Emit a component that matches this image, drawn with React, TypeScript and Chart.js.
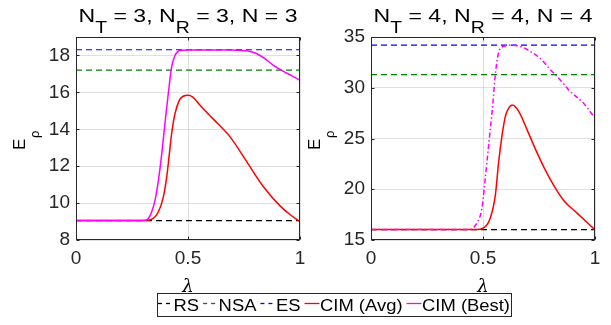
import React, { useEffect, useRef } from "react";
import { Chart, registerables } from "chart.js";

Chart.register(...registerables);

// ---------- data ----------
const xTicks = [0, 0.5, 1];
const yTicks3 = [8, 10, 12, 14, 16, 18];
const yTicks4 = [15, 20, 25, 30, 35];

const seriesLabels = ["RS", "NSA", "ES", "CIM (Avg)", "CIM (Best)"];

const constLambda = [0, 1];

// N_T = 3, N_R = 3, N = 3
const rs3 = [9.05, 9.05];
const nsa3 = [17.2, 17.2];
const es3 = [18.31, 18.31];
const lambda3Avg = [0, 0.3, 0.345, 0.368, 0.39, 0.405, 0.417, 0.427, 0.442, 0.461, 0.479, 0.5, 0.52, 0.554, 0.613, 0.687, 0.762, 0.836, 0.911, 0.955, 1.0];
const avg3 = [9.05, 9.05, 9.17, 9.53, 10.34, 11.42, 12.69, 13.77, 14.85, 15.57, 15.79, 15.84, 15.76, 15.3, 14.55, 13.6, 12.25, 10.9, 9.85, 9.38, 8.99];
const lambda3Best = [0, 0.3, 0.323, 0.338, 0.353, 0.368, 0.383, 0.397, 0.412, 0.427, 0.442, 0.464, 0.5, 0.6, 0.7, 0.76, 0.8, 0.84, 0.88, 0.92, 0.96, 1.0];
const best3 = [9.05, 9.05, 9.17, 9.53, 10.16, 11.24, 12.69, 14.31, 15.94, 17.38, 18.0, 18.27, 18.3, 18.3, 18.29, 18.25, 18.13, 17.85, 17.48, 17.18, 16.92, 16.65];

// N_T = 4, N_R = 4, N = 4
const rs4 = [16.03, 16.03];
const nsa4 = [31.3, 31.3];
const es4 = [34.2, 34.2];
const lambda4Avg = [0, 0.466, 0.503, 0.533, 0.555, 0.57, 0.585, 0.6, 0.615, 0.63, 0.659, 0.696, 0.733, 0.771, 0.815, 0.86, 0.92, 1.0];
const avg4 = [16.03, 16.03, 16.2, 17.2, 19.4, 22.7, 25.3, 27.2, 28.0, 28.3, 27.7, 25.9, 24.0, 22.2, 20.4, 18.9, 17.65, 16.0];
const lambda4Best = [0, 0.44, 0.473, 0.495, 0.51, 0.525, 0.54, 0.547, 0.554, 0.569, 0.591, 0.628, 0.666, 0.71, 0.755, 0.8, 0.844, 0.888, 0.948, 1.0];
const best4 = [16.03, 16.03, 16.7, 18.1, 21.05, 24.3, 27.5, 29.2, 31.1, 33.4, 34.07, 34.2, 34.07, 33.6, 32.9, 31.8, 30.8, 29.66, 28.5, 27.0];

// ---------- styles ----------
const FONT = '"Liberation Sans", Arial, sans-serif';
const AXIS = "#262626";
const GRID = "rgba(38,38,38,0.15)";
const C_RS = "#000000";
const C_NSA = "#008000";
const C_ES = "#0000ff";
const C_AVG = "#ff0000";
const C_BEST = "#ff00ff";

const pts = (xs: number[], ys: number[]) => xs.map((x, i) => ({ x, y: ys[i] }));

type Piece = { t: string; sub?: boolean };

function drawTitle(ctx: CanvasRenderingContext2D, pieces: Piece[], cx: number, target: number) {
  const main = `19px ${FONT}`;
  const sub = `16px ${FONT}`;
  let total = 0;
  const ws = pieces.map((p) => {
    ctx.font = p.sub ? sub : main;
    const w = ctx.measureText(p.t).width;
    total += w;
    return w;
  });
  const s = target / total;
  ctx.save();
  ctx.translate(cx - target / 2, 0);
  ctx.scale(s, 1);
  ctx.fillStyle = "#000";
  ctx.textBaseline = "alphabetic";
  ctx.textAlign = "left";
  let x = 0;
  pieces.forEach((p, i) => {
    ctx.font = p.sub ? sub : main;
    ctx.fillText(p.t, x, p.sub ? 33.3 : 21.7);
    x += ws[i];
  });
  ctx.restore();
}

function drawLegend(ctx: CanvasRenderingContext2D) {
  const colors = [C_RS, C_NSA, C_ES, C_AVG, C_BEST];
  const dashes = [[4, 4], [4, 4], [4, 4], [], []];
  const boxL = 157, boxR = 511, boxT = 293, boxB = 316;
  const sampleW = 15, gap = 4;
  ctx.save();
  ctx.font = `16px ${FONT}`;
  const widths = seriesLabels.map((l) => ctx.measureText(l).width);
  const sum = widths.reduce((a, b) => a + b, 0);
  const avail = boxR - boxL - 2 - seriesLabels.length * (sampleW + 0.5) - (seriesLabels.length - 1) * gap;
  const s = avail / sum;
  ctx.fillStyle = "#fff";
  ctx.fillRect(boxL, boxT, boxR - boxL, boxB - boxT);
  ctx.strokeStyle = AXIS;
  ctx.lineWidth = 1;
  ctx.strokeRect(boxL + 0.5, boxT + 0.5, boxR - boxL, boxB - boxT);
  let x = boxL + 1;
  seriesLabels.forEach((label, i) => {
    ctx.beginPath();
    ctx.setLineDash(dashes[i]);
    ctx.strokeStyle = colors[i];
    ctx.lineWidth = 1.3;
    ctx.moveTo(x, 303.5);
    ctx.lineTo(x + sampleW, 303.5);
    ctx.stroke();
    ctx.setLineDash([]);
    ctx.save();
    ctx.translate(x + sampleW + 0.5, 0);
    ctx.scale(s, 1);
    ctx.fillStyle = "#000";
    ctx.textBaseline = "alphabetic";
    ctx.textAlign = "left";
    ctx.fillText(label, 0, 311);
    ctx.restore();
    x += sampleW + 0.5 + widths[i] * s + gap;
  });
  ctx.restore();
}

function makeDecor(id: string, title: Piece[], yTicks: number[], withLegend: boolean) {
  return {
    id,
    afterDraw(chart: any) {
      const ctx: CanvasRenderingContext2D = chart.ctx;
      const { left, right, top, bottom } = chart.chartArea;
      const xs = chart.scales.x;
      const ys = chart.scales.y;
      ctx.save();
      ctx.strokeStyle = AXIS;
      ctx.lineWidth = 1;
      const L = Math.round(left) + 0.5, R = Math.round(right) - 0.5;
      const T = Math.round(top) + 0.5, B = Math.round(bottom) - 0.5;
      ctx.strokeRect(L, T, R - L, B - T);
      ctx.beginPath();
      xTicks.forEach((v) => {
        const px = Math.round(xs.getPixelForValue(v)) + 0.5;
        ctx.moveTo(px, B); ctx.lineTo(px, B - 3);
        ctx.moveTo(px, T); ctx.lineTo(px, T + 3);
      });
      yTicks.forEach((v) => {
        const py = Math.round(ys.getPixelForValue(v)) + 0.5;
        ctx.moveTo(L, py); ctx.lineTo(L + 3, py);
        ctx.moveTo(R, py); ctx.lineTo(R - 3, py);
      });
      ctx.stroke();
      ctx.restore();

      const cx = (left + right) / 2;
      drawTitle(ctx, title, cx, 219);

      // y label E_rho
      ctx.save();
      ctx.fillStyle = "#000";
      ctx.textAlign = "left";
      ctx.textBaseline = "alphabetic";
      ctx.translate(left - 51, 150);
      ctx.rotate(-Math.PI / 2);
      ctx.font = `17px ${FONT}`;
      ctx.fillText("E", 0, 0);
      ctx.font = `13px ${FONT}`;
      ctx.fillText("ρ", 12, 14);
      ctx.restore();

      // x label lambda
      ctx.save();
      ctx.fillStyle = "#000";
      ctx.textAlign = "center";
      ctx.textBaseline = "alphabetic";
      ctx.font = `italic 18px "DejaVu Serif", serif`;
      ctx.fillText("λ", cx, 292);
      ctx.restore();

      if (withLegend) drawLegend(ctx);
    },
  };
}

type Panel = {
  rs: number[]; nsa: number[]; es: number[];
  lAvg: number[]; avg: number[]; lBest: number[]; best: number[];
  bestDash: number[];
  yMin: number; yMax: number; yTicks: number[];
  padL: number; padR: number;
  title: Piece[];
  legend: boolean;
  id: string;
};

function makeConfig(p: Panel): any {
  const tickFont = { family: FONT, size: 19 };
  return {
    type: "line",
    data: {
      datasets: [
        { label: seriesLabels[0], data: pts(constLambda, p.rs), borderColor: C_RS, borderDash: [6, 4], borderWidth: 1.2, pointRadius: 0, order: 5 },
        { label: seriesLabels[1], data: pts(constLambda, p.nsa), borderColor: C_NSA, borderDash: [6, 4], borderWidth: 1.2, pointRadius: 0, order: 4 },
        { label: seriesLabels[2], data: pts(constLambda, p.es), borderColor: C_ES, borderDash: [6, 4], borderWidth: 1.2, pointRadius: 0, order: 3 },
        { label: seriesLabels[3], data: pts(p.lAvg, p.avg), borderColor: C_AVG, borderWidth: 1.5, pointRadius: 0, cubicInterpolationMode: "monotone", order: 2 },
        { label: seriesLabels[4], data: pts(p.lBest, p.best), borderColor: C_BEST, borderDash: p.bestDash, borderWidth: 1.5, pointRadius: 0, cubicInterpolationMode: "monotone", order: 1 },
      ],
    },
    options: {
      animation: false,
      responsive: false,
      devicePixelRatio: 1,
      events: [],
      layout: { padding: { left: p.padL, right: p.padR, top: 37, bottom: 55 } },
      plugins: { legend: { display: false }, tooltip: { enabled: false }, title: { display: false } },
      scales: {
        x: {
          type: "linear",
          min: 0,
          max: 1,
          afterBuildTicks: (s: any) => { s.ticks = xTicks.map((v) => ({ value: v })); },
          afterFit: (s: any) => { s.height = 30; },
          ticks: { font: tickFont, color: AXIS, padding: 7, maxRotation: 0, autoSkip: false, callback: (v: any) => String(v) },
          grid: { color: GRID, drawTicks: false, lineWidth: 1 },
          border: { display: false },
        },
        y: {
          type: "linear",
          min: p.yMin,
          max: p.yMax,
          afterBuildTicks: (s: any) => { s.ticks = p.yTicks.map((v) => ({ value: v })); },
          afterFit: (s: any) => { s.width = 40; },
          ticks: { font: tickFont, color: AXIS, padding: 6, autoSkip: false, callback: (v: any) => String(v) },
          grid: { color: GRID, drawTicks: false, lineWidth: 1 },
          border: { display: false },
        },
      },
    },
    plugins: [makeDecor(p.id, p.title, p.yTicks, p.legend)],
  };
}

const panel3: Panel = {
  rs: rs3, nsa: nsa3, es: es3, lAvg: lambda3Avg, avg: avg3, lBest: lambda3Best, best: best3,
  bestDash: [], yMin: 8, yMax: 19, yTicks: yTicks3, padL: 36, padR: 311,
  title: [{ t: "N" }, { t: "T", sub: true }, { t: " = 3, N" }, { t: "R", sub: true }, { t: " = 3, N = 3" }],
  legend: false, id: "decor3",
};

const panel4: Panel = {
  rs: rs4, nsa: nsa4, es: es4, lAvg: lambda4Avg, avg: avg4, lBest: lambda4Best, best: best4,
  bestDash: [5, 2.5, 1.5, 2.5], yMin: 15, yMax: 35, yTicks: yTicks4, padL: 331, padR: 16,
  title: [{ t: "N" }, { t: "T", sub: true }, { t: " = 4, N" }, { t: "R", sub: true }, { t: " = 4, N = 4" }],
  legend: true, id: "decor4",
};

export default function App() {
  const ref1 = useRef<HTMLCanvasElement | null>(null);
  const ref2 = useRef<HTMLCanvasElement | null>(null);
  useEffect(() => {
    const c1 = new Chart(ref1.current as HTMLCanvasElement, makeConfig(panel3));
    const c2 = new Chart(ref2.current as HTMLCanvasElement, makeConfig(panel4));
    return () => { c1.destroy(); c2.destroy(); };
  }, []);
  return (
    <div style={{ position: "absolute", left: 0, top: 0, width: 611, height: 325, background: "#fff" }}>
      <canvas ref={ref1} width={611} height={325} style={{ position: "absolute", left: 0, top: 0 }} />
      <canvas ref={ref2} width={611} height={325} style={{ position: "absolute", left: 0, top: 0 }} />
    </div>
  );
}
